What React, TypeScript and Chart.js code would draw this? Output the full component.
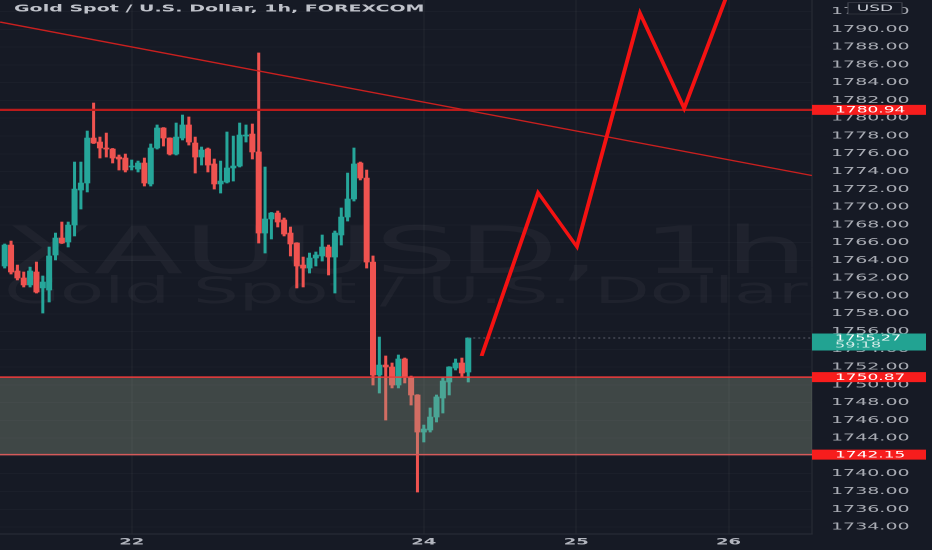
import { useEffect, useRef } from 'react';
import { Chart, registerables } from 'chart.js';

Chart.register(...registerables);

// ---------- data (hourly candles, XAUUSD) ----------
const opens = [
  1763.37, 1765.73, 1762.81, 1762.02, 1761.24, 1762.70, 1760.90, 1760.67, 1764.61, 1766.52,
  1766.07, 1767.98, 1771.92, 1772.71, 1777.77, 1777.32, 1776.65, 1776.53, 1775.63, 1775.52,
  1774.51, 1774.28, 1774.96, 1772.60, 1776.65, 1778.90, 1777.77, 1775.97, 1777.77, 1779.24,
  1777.21, 1775.63, 1776.53, 1774.85, 1772.60, 1772.82, 1774.40, 1774.62, 1777.99, 1778.22,
  1776.20, 1767.08, 1768.66, 1769.33, 1768.55, 1767.08, 1765.96, 1763.48, 1763.14, 1764.27,
  1764.50, 1765.51, 1764.38, 1766.86, 1768.88, 1770.91, 1774.96, 1773.27, 1763.82, 1751.11,
  1752.23, 1752.01, 1749.98, 1752.91, 1750.88, 1748.86, 1744.69, 1744.92, 1746.38, 1748.52,
  1750.32, 1751.89, 1752.46, 1751.44,
];
const closes = [
  1765.73, 1762.70, 1762.02, 1761.24, 1762.81, 1760.44, 1761.57, 1764.50, 1766.52, 1765.96,
  1767.98, 1772.03, 1772.71, 1777.77, 1777.21, 1776.65, 1776.53, 1775.52, 1775.41, 1774.17,
  1774.62, 1774.96, 1772.71, 1776.65, 1778.90, 1777.77, 1775.97, 1777.88, 1779.24, 1777.32,
  1775.63, 1776.42, 1774.73, 1772.60, 1772.93, 1774.40, 1774.62, 1778.11, 1778.11, 1776.20,
  1767.08, 1768.66, 1769.33, 1768.32, 1766.97, 1765.85, 1763.37, 1763.14, 1764.27, 1764.61,
  1765.51, 1764.38, 1767.08, 1768.88, 1770.91, 1774.85, 1773.27, 1763.82, 1751.11, 1752.23,
  1752.01, 1749.98, 1752.91, 1750.88, 1748.86, 1744.69, 1745.03, 1746.38, 1748.64, 1750.43,
  1752.01, 1752.46, 1751.33, 1755.27,
];
const highs = [
  1765.85, 1766.18, 1763.48, 1762.70, 1763.25, 1763.82, 1762.25, 1765.51, 1767.08, 1768.32,
  1768.32, 1775.07, 1775.07, 1778.56, 1781.71, 1777.88, 1778.33, 1776.60, 1775.86, 1775.97,
  1775.30, 1775.18, 1775.52, 1777.10, 1779.24, 1778.95, 1777.80, 1779.46, 1780.36, 1780.14,
  1777.88, 1776.76, 1776.65, 1775.41, 1775.18, 1778.45, 1777.99, 1779.46, 1779.24, 1779.35,
  1787.34, 1774.51, 1769.40, 1769.56, 1768.77, 1767.76, 1766.00, 1764.38, 1764.83, 1764.95,
  1766.86, 1765.73, 1767.31, 1769.90, 1773.83, 1776.65, 1775.07, 1774.17, 1764.50, 1755.38,
  1753.25, 1752.46, 1753.36, 1753.02, 1750.99, 1748.90, 1745.48, 1747.40, 1748.86, 1750.77,
  1752.05, 1752.91, 1753.02, 1755.30,
];
const lows = [
  1763.14, 1762.47, 1761.80, 1761.01, 1761.01, 1760.33, 1758.08, 1759.32, 1764.05, 1765.90,
  1765.51, 1766.75, 1769.78, 1771.70, 1777.15, 1775.52, 1775.63, 1774.96, 1774.17, 1773.95,
  1774.17, 1773.95, 1772.37, 1772.37, 1776.53, 1776.87, 1775.86, 1775.86, 1777.55, 1776.98,
  1773.83, 1774.73, 1773.95, 1772.03, 1771.58, 1772.71, 1772.93, 1774.51, 1777.32, 1775.41,
  1765.96, 1764.83, 1766.41, 1767.76, 1766.75, 1764.50, 1760.90, 1761.01, 1762.58, 1763.37,
  1763.93, 1762.36, 1760.33, 1765.73, 1768.43, 1770.68, 1773.05, 1763.14, 1749.98, 1749.08,
  1746.04, 1749.65, 1749.65, 1750.21, 1747.73, 1737.94, 1743.57, 1744.69, 1745.82, 1746.83,
  1748.86, 1751.67, 1750.88, 1750.32,
];

const xTickPos = [20, 66, 90, 114];
const xTickLabels = ['22', '24', '25', '26'];
const priceTicks = [
  1734, 1736, 1738, 1740, 1742, 1744, 1746, 1748, 1750, 1752, 1754, 1756, 1758, 1760, 1762,
  1764, 1766, 1768, 1770, 1772, 1774, 1776, 1778, 1780, 1782, 1784, 1786, 1788, 1790, 1792,
];

const resistanceLevel = 1780.94;
const zoneTop = 1750.87;
const zoneBottom = 1742.15;
const trendX = [-0.74, 127.13];
const trendY = [1790.82, 1773.55];
const projX = [75.1, 84.0, 90.1, 100.05, 107.0, 113.75];
const projY = [1753.25, 1771.62, 1765.54, 1791.8, 1781.11, 1793.86];
const lastPrice = 1755.27;
const countdown = '59:18';

const TITLE = 'Gold Spot / U.S. Dollar, 1h, FOREXCOM';
const WM1 = 'XAUUSD, 1h';
const WM2 = 'Gold Spot / U.S. Dollar';

// ---------- view / style ----------
const X_MIN = -0.74;
const X_MAX = 127.13;
const Y_MIN = 1733.22;
const Y_MAX = 1793.3;
const BG = '#161a25';
const UP = '#26a69a';
const DOWN = '#ef5350';
const FONT = '"DejaVu Sans", "Noto Sans", sans-serif';

const decorPlugin = {
  id: 'decor',
  beforeDraw(chart: any) {
    const { ctx } = chart;
    ctx.save();
    ctx.fillStyle = BG;
    ctx.fillRect(0, 0, chart.width, chart.height);
    ctx.restore();
  },
  beforeDatasetsDraw(chart: any) {
    const { ctx, chartArea } = chart;
    const cx = (chartArea.left + chartArea.right) / 2;
    const target = chartArea.right - chartArea.left - 4;
    ctx.save();
    ctx.fillStyle = 'rgba(255,255,255,0.04)';
    ctx.textAlign = 'center';
    ctx.textBaseline = 'alphabetic';
    ctx.font = `64px ${FONT}`;
    let w = ctx.measureText(WM1).width;
    ctx.font = `${(64 * target) / w}px ${FONT}`;
    ctx.fillText(WM1, cx, 273);
    ctx.font = `32px ${FONT}`;
    w = ctx.measureText(WM2).width;
    ctx.font = `${(32 * target) / w}px ${FONT}`;
    ctx.fillText(WM2, cx, 303);
    ctx.restore();
  },
  afterDraw(chart: any) {
    const { ctx, chartArea } = chart;
    const y = chart.scales.y;
    const left = chartArea.right;
    const right = chart.width - 3;
    ctx.save();
    // title
    ctx.font = `bold 9.5px ${FONT}`;
    ctx.fillStyle = '#bfc2ca';
    ctx.textAlign = 'left';
    ctx.textBaseline = 'alphabetic';
    ctx.fillText(TITLE, 7, 11.7);

    // price labels
    const box = (v: number, color: string) => {
      const py = y.getPixelForValue(v);
      ctx.fillStyle = color;
      ctx.fillRect(left, py - 5, right - left, 10);
      ctx.fillStyle = '#ffffff';
      ctx.font = `8.5px ${FONT}`;
      ctx.textBaseline = 'middle';
      ctx.fillText(v.toFixed(2), left + 11.5, py + 0.5);
    };
    box(resistanceLevel, '#f71d1d');
    box(zoneTop, '#f71d1d');
    box(zoneBottom, '#f71d1d');

    const lp = y.getPixelForValue(lastPrice);
    ctx.fillStyle = '#22a392';
    ctx.fillRect(left, lp - 4.5, right - left, 17);
    ctx.fillStyle = '#ffffff';
    ctx.font = `8px ${FONT}`;
    ctx.textBaseline = 'middle';
    ctx.fillText(lastPrice.toFixed(2), left + 11.5, lp + 0.3);
    ctx.fillStyle = 'rgba(255,255,255,0.8)';
    ctx.fillText(countdown, left + 11.5, lp + 7.5);

    // USD badge
    ctx.fillStyle = BG;
    ctx.strokeStyle = '#434651';
    ctx.lineWidth = 0.6;
    ctx.beginPath();
    ctx.rect(424, 2.7, 27, 11.3);
    ctx.fill();
    ctx.stroke();
    ctx.fillStyle = '#c9ccd4';
    ctx.font = `8.5px ${FONT}`;
    ctx.textAlign = 'center';
    ctx.fillText('USD', 437.5, 8.6);
    ctx.restore();
  },
};

export default function App() {
  const ref = useRef<HTMLCanvasElement>(null);

  useEffect(() => {
    const canvas = ref.current;
    if (!canvas) return;
    const colors = closes.map((c, i) => (c >= opens[i] ? UP : DOWN));
    const hLine = (v: number) => [
      { x: X_MIN, y: v },
      { x: X_MAX, y: v },
    ];

    const chart = new Chart(canvas, {
      type: 'line',
      data: {
        datasets: [
          {
            type: 'line',
            label: 'projection',
            data: projX.map((x, i) => ({ x, y: projY[i] })),
            borderColor: '#f41212',
            borderWidth: 2,
            pointRadius: 0,
            tension: 0,
            order: 1,
          },
          {
            type: 'line',
            label: 'trend',
            data: trendX.map((x, i) => ({ x, y: trendY[i] })),
            borderColor: '#c9201f',
            borderWidth: 1.3,
            pointRadius: 0,
            order: 2,
          },
          {
            type: 'line',
            label: 'resistance',
            data: hLine(resistanceLevel),
            borderColor: '#bb1b1b',
            borderWidth: 2.2,
            pointRadius: 0,
            order: 3,
          },
          {
            type: 'line',
            label: 'zoneBottom',
            data: hLine(zoneBottom),
            borderColor: '#d45a5a',
            borderWidth: 1.4,
            pointRadius: 0,
            order: 4,
          },
          {
            type: 'line',
            label: 'zoneTop',
            data: hLine(zoneTop),
            borderColor: '#ef3b3b',
            borderWidth: 1.4,
            pointRadius: 0,
            fill: { value: zoneBottom },
            backgroundColor: 'rgba(150,165,140,0.33)',
            order: 5,
          },
          {
            type: 'line',
            label: 'last',
            data: [
              { x: opens.length - 1, y: lastPrice },
              { x: X_MAX, y: lastPrice },
            ],
            borderColor: '#5d616d',
            borderWidth: 1,
            borderDash: [1, 1.5],
            pointRadius: 0,
            order: 6,
          },
          {
            type: 'bar',
            label: 'bodies',
            data: opens.map((o, i) => ({ x: i, y: [o, closes[i]] })) as any,
            backgroundColor: colors,
            barThickness: 2.35,
            grouped: false,
            minBarLength: 1,
            order: 7,
          },
          {
            type: 'bar',
            label: 'wicks',
            data: lows.map((l, i) => ({ x: i, y: [l, highs[i]] })) as any,
            backgroundColor: colors,
            barThickness: 0.85,
            grouped: false,
            order: 8,
          },
        ] as any,
      },
      options: {
        responsive: false,
        maintainAspectRatio: false,
        devicePixelRatio: 2,
        animation: false,
        layout: { padding: 0 },
        plugins: {
          legend: { display: false },
          tooltip: { enabled: false },
          title: { display: false },
        },
        scales: {
          x: {
            type: 'linear',
            min: X_MIN,
            max: X_MAX,
            offset: false,
            grid: {
              color: 'rgba(255,255,255,0.055)',
              lineWidth: 0.5,
              drawTicks: false,
              offset: false,
            },
            border: { color: '#2a2e39', width: 1 },
            ticks: {
              autoSkip: false,
              maxRotation: 0,
              padding: 3,
              color: '#b2b5be',
              font: { family: FONT, size: 9, weight: 'bold' },
              callback: (_v: any, i: number) => xTickLabels[i],
            },
            afterBuildTicks: (scale: any) => {
              scale.ticks = xTickPos.map((v) => ({ value: v }));
            },
            afterFit: (scale: any) => {
              scale.height = 16;
              scale.paddingLeft = 0;
              scale.paddingRight = 0;
            },
          },
          y: {
            type: 'linear',
            position: 'right',
            min: Y_MIN,
            max: Y_MAX,
            beginAtZero: false,
            grid: {
              color: 'rgba(255,255,255,0.025)',
              lineWidth: 1,
              drawTicks: false,
            },
            border: { color: '#2a2e39', width: 0.5 },
            ticks: {
              autoSkip: false,
              padding: 9.5,
              color: '#a9acb4',
              font: { family: FONT, size: 9.5 },
              callback: (v: any) => Number(v).toFixed(2),
            },
            afterBuildTicks: (scale: any) => {
              scale.ticks = priceTicks.map((v) => ({ value: v }));
            },
            afterFit: (scale: any) => {
              scale.width = 60;
              scale.paddingTop = 0;
              scale.paddingBottom = 0;
            },
          },
        },
      } as any,
      plugins: [decorPlugin],
    });

    return () => chart.destroy();
  }, []);

  return (
    <div
      style={{
        position: 'fixed',
        left: 0,
        top: 0,
        width: 932,
        height: 550,
        background: BG,
        overflow: 'hidden',
      }}
    >
      <canvas
        ref={ref}
        width={466}
        height={550}
        style={{ width: '932px', height: '550px', display: 'block' }}
      />
    </div>
  );
}
